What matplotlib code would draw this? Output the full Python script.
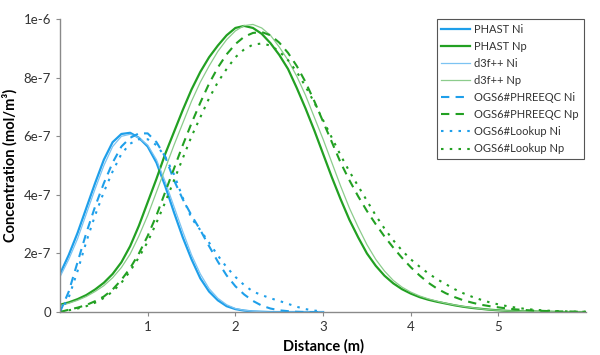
import numpy as np
import matplotlib
matplotlib.use("Agg")
import matplotlib.pyplot as plt

# sampling grid along the column (m)
distance = np.round(np.arange(0, 6.01, 0.1), 1)

# concentrations in 1e-6 mol/m3
phast_ni = [0.13, 0.195, 0.27, 0.355, 0.44, 0.52, 0.58, 0.608, 0.612, 0.595,
            0.565, 0.51, 0.43, 0.34, 0.255, 0.18, 0.115, 0.07, 0.04, 0.02,
            0.01, 0.005, 0.002, 0.001, 0.0, 0.0, 0.0, 0.0, 0.0, 0.0, 0.0]
d3f_ni = [0.12, 0.18, 0.25, 0.335, 0.42, 0.50, 0.565, 0.60, 0.607, 0.595,
          0.57, 0.52, 0.445, 0.36, 0.275, 0.195, 0.13, 0.08, 0.047, 0.025,
          0.012, 0.006, 0.003, 0.001, 0.0, 0.0, 0.0, 0.0, 0.0, 0.0, 0.0]
ogs_phreeqc_ni = [0.0, 0.07, 0.17, 0.27, 0.36, 0.44, 0.51, 0.565, 0.595, 0.61,
                  0.61, 0.58, 0.53, 0.45, 0.385, 0.33, 0.28, 0.225, 0.172, 0.125,
                  0.088, 0.06, 0.038, 0.022, 0.012, 0.006, 0.003, 0.001, 0.0, 0.0, 0.0]
ogs_lookup_ni = [0.0, 0.05, 0.14, 0.24, 0.33, 0.41, 0.48, 0.54, 0.575, 0.59,
                 0.59, 0.57, 0.53, 0.47, 0.39, 0.32, 0.28, 0.237, 0.193, 0.153,
                 0.12, 0.092, 0.07, 0.058, 0.047, 0.038, 0.028, 0.018, 0.01, 0.005, 0.002]

phast_np = [0.025, 0.033, 0.044, 0.058, 0.077, 0.10, 0.13, 0.17, 0.225, 0.295,
            0.375, 0.455, 0.54, 0.615, 0.69, 0.76, 0.82, 0.87, 0.91, 0.945,
            0.97, 0.977, 0.97, 0.95, 0.918, 0.878, 0.83, 0.765, 0.695, 0.62,
            0.54, 0.46, 0.385, 0.315, 0.255, 0.2, 0.158, 0.124, 0.098, 0.078,
            0.063, 0.051, 0.042, 0.035, 0.029, 0.023, 0.018, 0.014, 0.011, 0.008,
            0.006, 0.004, 0.003, 0.002, 0.002, 0.001, 0.001, 0.0, 0.0, 0.0, 0.0]
d3f_np = [0.022, 0.03, 0.04, 0.053, 0.07, 0.09, 0.117, 0.152, 0.198, 0.26,
          0.33, 0.41, 0.49, 0.57, 0.645, 0.72, 0.785, 0.84, 0.89, 0.93,
          0.96, 0.978, 0.982, 0.97, 0.945, 0.905, 0.86, 0.805, 0.74, 0.665,
          0.59, 0.51, 0.43, 0.355, 0.29, 0.23, 0.18, 0.14, 0.108, 0.085,
          0.068, 0.055, 0.045, 0.037, 0.03, 0.024, 0.019, 0.015, 0.011, 0.008,
          0.006, 0.004, 0.003, 0.002, 0.002, 0.001, 0.001, 0.0, 0.0, 0.0, 0.0]
ogs_phreeqc_np = [0.0, 0.008, 0.015, 0.024, 0.037, 0.053, 0.077, 0.11, 0.15, 0.2,
                  0.26, 0.33, 0.41, 0.49, 0.57, 0.645, 0.715, 0.78, 0.835, 0.88,
                  0.915, 0.94, 0.953, 0.956, 0.945, 0.92, 0.885, 0.84, 0.785, 0.72,
                  0.65, 0.58, 0.51, 0.45, 0.395, 0.345, 0.3, 0.258, 0.22, 0.185,
                  0.153, 0.125, 0.1, 0.08, 0.064, 0.051, 0.04, 0.032, 0.025, 0.02,
                  0.016, 0.012, 0.009, 0.007, 0.005, 0.004, 0.003, 0.002, 0.002, 0.001, 0.001]
ogs_lookup_np = [0.0, 0.006, 0.012, 0.02, 0.032, 0.048, 0.07, 0.1, 0.14, 0.187,
                 0.24, 0.305, 0.375, 0.45, 0.525, 0.6, 0.665, 0.73, 0.785, 0.83,
                 0.87, 0.897, 0.913, 0.917, 0.91, 0.89, 0.86, 0.82, 0.77, 0.715,
                 0.655, 0.595, 0.535, 0.48, 0.43, 0.38, 0.33, 0.285, 0.245, 0.21,
                 0.18, 0.155, 0.132, 0.112, 0.095, 0.078, 0.064, 0.052, 0.042, 0.033,
                 0.026, 0.02, 0.015, 0.011, 0.008, 0.006, 0.004, 0.003, 0.002, 0.001, 0.001]

y_ticks = [0, 0.2, 0.4, 0.6, 0.8, 1.0]
y_tick_labels = ["0", "2e-7", "4e-7", "6e-7", "8e-7", "1e-6"]
x_ticks = [1, 2, 3, 4, 5]

blue = "#1e9fea"
blue_light = "#7cc3f2"
green = "#22a022"
green_light = "#8ccc8c"

plt.rcParams['font.family'] = ['Lato', 'DejaVu Sans']

fig = plt.figure(figsize=(6, 3.55), dpi=100)
ax = fig.add_axes([0.1, 0.121, 0.877, 0.825])

series = [
    ("PHAST Ni", phast_ni, blue, 1.6, "-"),
    ("PHAST Np", phast_np, green, 1.6, "-"),
    ("d3f++ Ni", d3f_ni, blue_light, 0.9, "-"),
    ("d3f++ Np", d3f_np, green_light, 0.9, "-"),
    ("OGS6#PHREEQC Ni", ogs_phreeqc_ni, blue, 1.5, (0, (4, 3))),
    ("OGS6#PHREEQC Np", ogs_phreeqc_np, green, 1.5, (0, (4, 3))),
    ("OGS6#Lookup Ni", ogs_lookup_ni, blue, 1.5, (0, (1.2, 3))),
    ("OGS6#Lookup Np", ogs_lookup_np, green, 1.5, (0, (1.2, 3))),
]
for label, vals, col, lw, ls in series:
    ax.plot(distance[:len(vals)], np.array(vals) * 1e-6, color=col, lw=lw,
            ls=ls, label=label)

ax.set_xlim(0, 6)
ax.set_ylim(0, 1e-6)
ax.set_xticks(x_ticks)
ax.set_yticks(np.array(y_ticks) * 1e-6)
ax.set_yticklabels(y_tick_labels)
ax.yaxis.get_offset_text().set_visible(False)

for s in ["top", "right"]:
    ax.spines[s].set_visible(False)
for s in ["left", "bottom"]:
    ax.spines[s].set_color("#8a8a8a")
    ax.spines[s].set_linewidth(1.0)
ax.tick_params(colors="#8a8a8a", labelcolor="#333333", labelsize=9.5,
               length=3, width=0.8)

ax.set_xlabel("Distance (m)", fontsize=10.5, fontweight="bold", labelpad=4)
ax.set_ylabel("Concentration (mol/m³)", fontsize=10.5, fontweight="bold",
              labelpad=4)

leg = ax.legend(loc="upper right", bbox_to_anchor=(0.995, 1.0),
                borderaxespad=0, fontsize=8, fancybox=False, framealpha=1,
                handlelength=2.6, labelspacing=0.55, handletextpad=0.4)
leg.get_frame().set_edgecolor("#555555")
leg.get_frame().set_linewidth(0.8)
for t in leg.get_texts():
    t.set_color("#333333")

fig.savefig("out.png", dpi=100)
